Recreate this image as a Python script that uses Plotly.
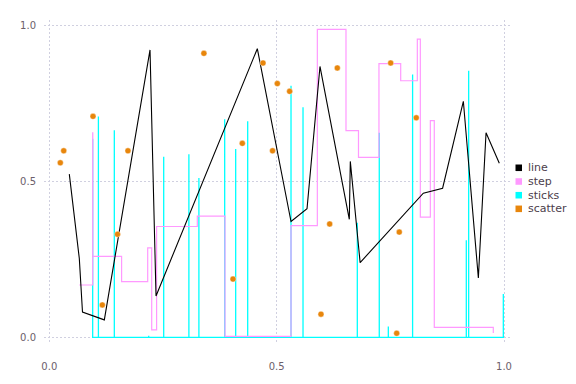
import plotly.graph_objects as go

# ---- data ----
line_x = [0.044, 0.066, 0.073, 0.121, 0.2215, 0.2347, 0.4575, 0.5316, 0.5668, 0.5953,
          0.6598, 0.662, 0.6836, 0.8226, 0.865, 0.9106, 0.9436, 0.9605, 0.9897]
line_y = [0.524, 0.253, 0.081, 0.056, 0.923, 0.133, 0.927, 0.372, 0.413, 0.870,
          0.379, 0.565, 0.240, 0.463, 0.479, 0.758, 0.191, 0.657, 0.559]

step_x = [0.066, 0.0954, 0.0956, 0.159, 0.2164, 0.2252, 0.236, 0.3255, 0.3864, 0.5316,
          0.5895, 0.6525, 0.680, 0.725, 0.7728, 0.8094, 0.816, 0.838, 0.8467, 0.9765]
step_y = [0.168, 0.657, 0.260, 0.179, 0.287, 0.024, 0.356, 0.389, 0.003, 0.359,
          0.989, 0.664, 0.578, 0.879, 0.824, 0.958, 0.386, 0.696, 0.032, 0.014]

stick_x = [0.0954, 0.108, 0.143, 0.2186, 0.2516, 0.307, 0.329, 0.3857, 0.4099, 0.4363,
           0.5316, 0.558, 0.6774, 0.7257, 0.7456, 0.799, 0.9171, 0.9223, 0.9985]
stick_y = [0.638, 0.709, 0.665, 0.005, 0.580, 0.588, 0.512, 0.700, 0.605, 0.694,
           0.808, 0.739, 0.368, 0.657, 0.035, 0.844, 0.312, 0.856, 0.139]

scatter_x = [0.0242, 0.0317, 0.0961, 0.1166, 0.150, 0.173, 0.340, 0.404, 0.4245, 0.470,
             0.491, 0.5015, 0.5286, 0.5975, 0.6166, 0.6334, 0.7508, 0.764, 0.7697, 0.807]
scatter_y = [0.5605, 0.599, 0.7096, 0.104, 0.331, 0.599, 0.912, 0.187, 0.623, 0.881,
             0.599, 0.815, 0.790, 0.0744, 0.364, 0.865, 0.881, 0.013, 0.338, 0.705]

series_names = ["line", "step", "sticks", "scatter"]
series_colors = ["#000000", "#FF99FF", "#00FFFF", "#E8860C"]

tick_vals = [0.0, 0.5, 1.0]
tick_text = ["0.0", "0.5", "1.0"]

# ---- build stick path (baseline connected) ----
sx, sy = [], []
for x, y in zip(stick_x, stick_y):
    sx += [x, x, x]
    sy += [0, y, 0]

fig = go.Figure()
fig.add_trace(go.Scatter(x=sx, y=sy, mode="lines", name="sticks",
                         line=dict(color=series_colors[2], width=1.3), showlegend=False))
fig.add_trace(go.Scatter(x=step_x, y=step_y, mode="lines", name="step", line_shape="hv",
                         line=dict(color=series_colors[1], width=1.2), showlegend=False))
fig.add_trace(go.Scatter(x=line_x, y=line_y, mode="lines", name="line",
                         line=dict(color=series_colors[0], width=1.1), showlegend=False))
fig.add_trace(go.Scatter(x=scatter_x, y=scatter_y, mode="markers", name="scatter",
                         marker=dict(color=series_colors[3], size=6,
                                     line=dict(color="white", width=0.4)),
                         cliponaxis=False, showlegend=False))

# ---- layout geometry (pixels) ----
W, H = 576, 384
L, R, T, B = 44, 64, 20, 40
pw, ph = W - L - R, H - T - B

def paper_x(px):
    return (px - L) / pw

def paper_y(py):
    return (H - B - py) / ph

# key (drawn like Gadfly's key)
shapes = []
annotations = []
key_y = [168.7, 182.5, 196.3, 210.0]
for name, col, cy in zip(series_names, series_colors, key_y):
    shapes.append(dict(type="rect", xref="paper", yref="paper",
                       x0=paper_x(515.5), x1=paper_x(522.0),
                       y0=paper_y(cy + 3.3), y1=paper_y(cy - 3.3),
                       fillcolor=col, line=dict(width=0)))
    annotations.append(dict(xref="paper", yref="paper", x=paper_x(526), y=paper_y(cy),
                            xanchor="left", yanchor="middle", text=name, showarrow=False,
                            font=dict(family="DejaVu Sans", size=11, color="#4c404b")))

grid = dict(showgrid=True, gridcolor="#D0D0E0", gridwidth=0.8, griddash="2px,2px",
            zeroline=False, showline=False, ticks="",
            tickfont=dict(family="DejaVu Sans", size=10, color="#6c606b"),
            tickvals=tick_vals, ticktext=tick_text)

fig.update_layout(
    width=W, height=H,
    margin=dict(l=L, r=R, t=T, b=B, pad=0),
    paper_bgcolor="white", plot_bgcolor="white",
    xaxis=dict(range=[-0.01166, 1.0176], ticklabelstandoff=17, **grid),
    yaxis=dict(range=[-0.015, 1.0191], ticklabelstandoff=7, **grid),
    shapes=shapes, annotations=annotations,
    showlegend=False,
)

fig.write_html("out.html", config={"displayModeBar": False},
               post_script="document.body.style.margin='0';")
